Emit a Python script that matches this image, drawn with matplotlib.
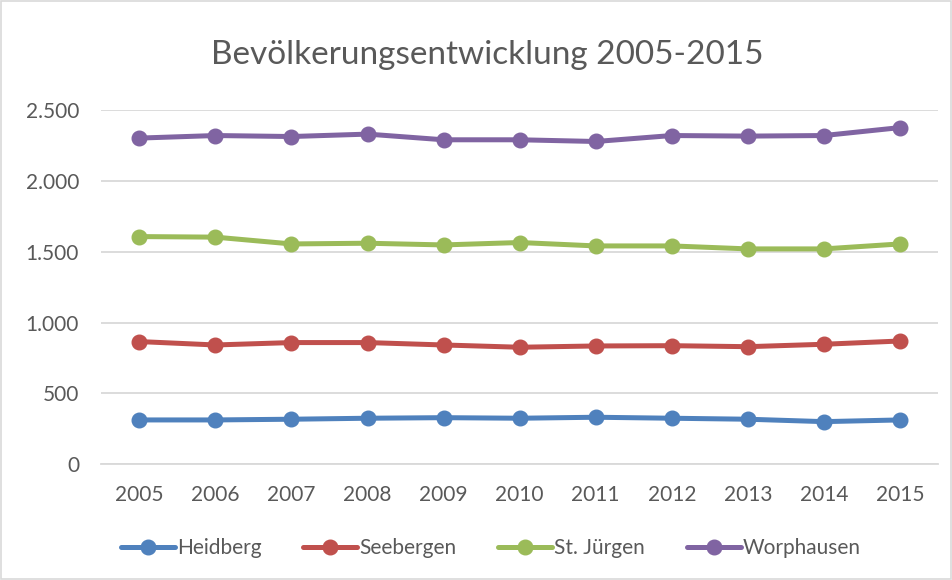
import matplotlib.pyplot as plt
from matplotlib.patches import Rectangle

# Daten
years = ['2005', '2006', '2007', '2008', '2009', '2010', '2011', '2012', '2013', '2014', '2015']
heidberg = [313, 313, 318, 325, 329, 325, 332, 325, 318, 301, 313]
seebergen = [866, 842, 859, 859, 842, 826, 835, 837, 830, 847, 870]
st_juergen = [1607, 1603, 1555, 1560, 1548, 1565, 1541, 1541, 1520, 1520, 1555]
worphausen = [2302, 2320, 2313, 2330, 2290, 2290, 2278, 2320, 2316, 2320, 2376]

series_names = ['Heidberg', 'Seebergen', 'St. Jürgen', 'Worphausen']
y_ticks = [0, 500, 1000, 1500, 2000, 2500]
y_tick_labels = ['0', '500', '1.000', '1.500', '2.000', '2.500']

colors = ['#4F81BD', '#C0504D', '#9BBB59', '#8064A2']
text_color = '#595959'

plt.rcParams['font.family'] = ['Lato', 'DejaVu Sans']

fig = plt.figure(figsize=(9.53, 5.80), dpi=100)
ax = fig.add_axes([0.1063, 0.1995, 0.878, 0.6108])

x = list(range(len(years)))
for name, vals, c in zip(series_names, [heidberg, seebergen, st_juergen, worphausen], colors):
    ax.plot(x, vals, color=c, linewidth=3.6, marker='o', markersize=10.5,
            label=name, solid_capstyle='round', zorder=3)

ax.set_xlim(-0.5, len(years) - 0.5)
ax.set_ylim(0, 2500)
ax.set_yticks(y_ticks)
ax.set_yticklabels(y_tick_labels)
ax.set_xticks(x)
ax.set_xticklabels(years)
ax.tick_params(axis='both', length=0, labelsize=15, colors=text_color)
ax.tick_params(axis='y', pad=16)
ax.tick_params(axis='x', pad=15)

ax.grid(axis='y', color='#D9D9D9', linewidth=1.3)
ax.set_axisbelow(True)
for side in ['top', 'right', 'left']:
    ax.spines[side].set_visible(False)
ax.spines['bottom'].set_color('#D9D9D9')
ax.spines['bottom'].set_linewidth(1.3)

fig.text(0.511, 0.905, 'Bevölkerungsentwicklung 2005-2015', ha='center', va='center',
         fontsize=24, color=text_color)

fig.legend(loc='center', bbox_to_anchor=(0.515, 0.055), ncol=4, frameon=False,
           fontsize=15, handlelength=2.6, columnspacing=2.0, handletextpad=0.1,
           labelcolor=text_color)

# Rahmen um das Diagramm
fig.patches.append(Rectangle((0.001, 0.001), 0.997, 0.997, transform=fig.transFigure,
                             fill=False, edgecolor='#D9D9D9', linewidth=1.2))

fig.savefig('out.png', dpi=100)
